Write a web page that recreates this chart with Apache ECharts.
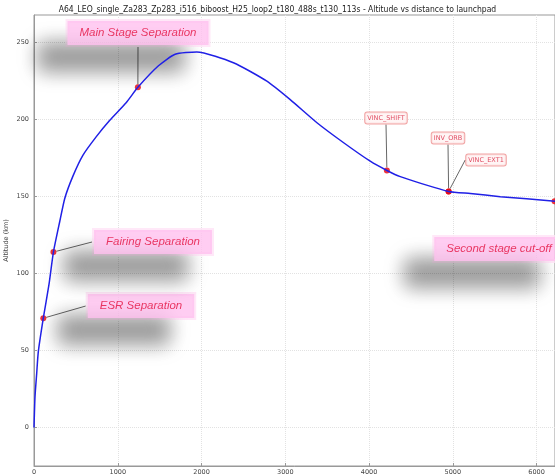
<!DOCTYPE html>
<html>
<head>
<meta charset="utf-8">
<script src="https://cdn.jsdelivr.net/npm/echarts@6/dist/echarts.min.js"></script>
<style>
  html, body { margin: 0; padding: 0; background: #fff; }
  #chart { width: 555px; height: 475px; }
</style>
</head>
<body>
<div id="chart"></div>
<script>
// trajectory: distance to launchpad (km) vs altitude (km)
var distance = [0, 12, 32, 51, 111, 179, 232, 308, 368, 466, 585, 744, 902, 1100, 1240, 1486, 1685, 1944, 2381, 2780, 3059, 3378, 3697, 4014, 4213, 4373, 4950, 5209, 5567, 6225];
var altitude = [0, 20, 35, 49, 71, 93, 114, 134, 149, 163.5, 177, 189, 199.5, 211, 221, 235, 242.5, 244, 237, 225, 213, 198, 185, 173, 167, 163, 153.4, 152, 150, 147];

// flight events
var eventNames = ['ESR Separation', 'Fairing Separation', 'Main Stage Separation', 'VINC_SHIFT', 'INV_ORB', 'VINC_EXT1', 'Second stage cut-off'];
var eventDist = [111, 232, 1240, 4213, 4950, 4950, 6215];
var eventAlt = [71, 114, 221, 167, 153.4, 153.4, 147];

var xTicks = [0, 1000, 2000, 3000, 4000, 5000, 6000];
var yTicks = [0, 50, 100, 150, 200, 250];

var title = 'A64_LEO_single_Za283_Zp283_i516_biboost_H25_loop2_t180_488s_t130_113s - Altitude vs distance to launchpad';

// where each event label sits on the page (pixels) and which style it uses
var labelPos = [[141, 306], [153, 242], [138, 33], [386, 118], [448, 138], [486, 160], [499, 249]];
var bigLabel = [true, true, true, false, false, false, true];

var bigStyle = {
    fontFamily: 'Liberation Sans',
    fontStyle: 'italic',
    fontSize: 11.5,
    color: '#e3103f',
    backgroundColor: '#ffc0ef',
    borderColor: '#ffe2f6',
    borderWidth: 2,
    padding: [6, 12],
    shadowColor: 'rgba(0,0,0,0.5)',
    shadowBlur: 20,
    shadowOffsetX: -27,
    shadowOffsetY: 24
};
var smallStyle = {
    fontFamily: 'DejaVu Sans',
    fontSize: 6.5,
    color: '#d8203c',
    backgroundColor: '#fff2f2',
    borderColor: '#ee8c8c',
    borderWidth: 1,
    borderRadius: 2,
    padding: [2, 2]
};

var lineData = distance.map(function (d, i) { return [d, altitude[i]]; });
var eventData = eventNames.map(function (n, i) {
    var st = bigLabel[i] ? bigStyle : smallStyle;
    return {
        name: n,
        value: [eventDist[i], eventAlt[i]],
        label: Object.assign({ show: true, formatter: n, align: 'center', verticalAlign: 'middle' }, st)
    };
});

function plain(v) { return String(v); }

var chart = echarts.init(document.getElementById('chart'));
var option = {
    animation: false,
    title: {
        text: title,
        left: 'center',
        top: 0,
        textStyle: { fontFamily: 'DejaVu Sans Condensed', fontSize: 8.5, fontWeight: 'normal', color: '#222' }
    },
    grid: {
        left: 34, right: 0, top: 15, bottom: 9,
        outerBoundsMode: 'none',
        containLabel: false,
        show: true, borderColor: '#999', borderWidth: 1
    },
    xAxis: {
        type: 'value',
        min: 0, max: 6220,
        axisLine: { show: true, onZero: false, lineStyle: { color: '#999' } },
        axisTick: { show: true, inside: true, length: 3, customValues: xTicks, lineStyle: { color: '#999' } },
        axisLabel: { customValues: xTicks, formatter: plain, fontFamily: 'DejaVu Sans', fontSize: 6.5, color: '#444', margin: 3 },
        splitLine: { show: true, lineStyle: { color: '#e2e2e2', type: 'dotted' } }
    },
    yAxis: {
        type: 'value',
        min: -25, max: 268,
        name: 'Altitude (km)',
        nameLocation: 'middle',
        nameGap: 24,
        nameMoveOverlap: false,
        nameTextStyle: { fontFamily: 'DejaVu Sans', fontSize: 6.5, color: '#444' },
        axisLine: { show: true, lineStyle: { color: '#999' } },
        axisTick: { show: true, inside: true, length: 3, customValues: yTicks, lineStyle: { color: '#999' } },
        axisLabel: { customValues: yTicks, formatter: plain, fontFamily: 'DejaVu Sans', fontSize: 6.5, color: '#444', margin: 5 },
        splitLine: { show: true, lineStyle: { color: '#e2e2e2', type: 'dotted' } }
    },
    series: [
        {
            type: 'line',
            data: lineData,
            smooth: 0.2,
            showSymbol: false,
            lineStyle: { color: '#2020e6', width: 1.5 }
        },
        {
            type: 'scatter',
            data: eventData,
            symbolSize: 6,
            itemStyle: { color: '#e8000c' },
            labelLine: { show: true, lineStyle: { color: '#666', width: 1 } },
            labelLayout: function (params) {
                var p = labelPos[params.dataIndex];
                return { x: p[0], y: p[1] };
            }
        }
    ]
};
chart.setOption(option);
</script>
</body>
</html>
